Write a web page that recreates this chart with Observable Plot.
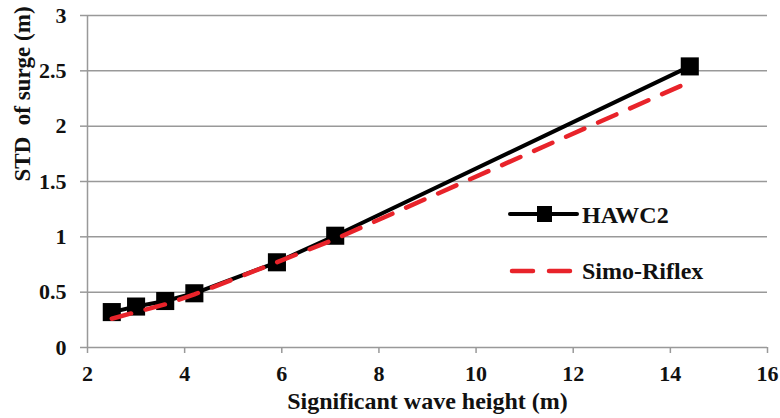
<!DOCTYPE html>
<html>
<head>
<meta charset="utf-8">
<script src="https://cdn.jsdelivr.net/npm/d3@7"></script>
<script src="https://cdn.jsdelivr.net/npm/@observablehq/plot@0.6"></script>
<style>
  html, body { margin: 0; padding: 0; background: #fff; }
  #wrap { position: relative; width: 780px; height: 418px; font-family: "Liberation Serif", "Times New Roman", serif; }
  .legend { position: absolute; left: 508px; height: 30px; line-height: 30px; font-weight: bold; font-size: 24px; color: #111; display: flex; align-items: center; }
  .legend svg { margin-right: 2px; display: block; }
</style>
</head>
<body>
<div id="wrap"></div>
<script>
const waveHeight = [2.5, 3.0, 3.6, 4.2, 5.9, 7.1, 14.4];
const hawc2 = [0.32, 0.37, 0.42, 0.49, 0.77, 1.01, 2.54];
const simoRiflex = [0.26, 0.32, 0.39, 0.48, 0.77, 0.98, 2.40];
const xTicks = [2, 4, 6, 8, 10, 12, 14, 16];
const yTicks = [0, 0.5, 1, 1.5, 2, 2.5, 3];
const yTickLabels = ["0", "0.5", "1", "1.5", "2", "2.5", "3"];
const seriesNames = ["HAWC2", "Simo-Riflex"];

const hData = waveHeight.map((x, i) => ({x, y: hawc2[i]}));
const sData = waveHeight.map((x, i) => ({x, y: simoRiflex[i]}));

const chart = Plot.plot({
  width: 780,
  height: 418,
  marginLeft: 87,
  marginRight: 13,
  marginTop: 15,
  marginBottom: 71,
  style: {fontFamily: "'Liberation Serif', 'Times New Roman', serif", fontWeight: "bold", fontSize: "22px", color: "#111", background: "#fff"},
  x: {domain: [2, 16]},
  y: {domain: [0, 3]},
  marks: [
    Plot.ruleY(yTicks.filter(d => d > 0), {stroke: "#999", strokeWidth: 1.5}),
    Plot.axisY({ticks: yTicks, tickFormat: d => yTickLabels[yTicks.indexOf(d)], tickSize: 7, tickPadding: 14, stroke: "#999", strokeWidth: 1.5, label: null}),
    Plot.ruleX([2], {stroke: "#999", strokeWidth: 1.5}),
    Plot.ruleY([0], {stroke: "#999", strokeWidth: 1.5}),
    Plot.axisX({ticks: xTicks, tickSize: 6, tickPadding: 12, stroke: "#999", strokeWidth: 1.5, label: null}),
    Plot.text(["Significant wave height (m)"], {frameAnchor: "bottom", dy: 61, fontSize: 24, fontWeight: "bold"}),
    Plot.text(["STD  of surge (m)"], {frameAnchor: "left", dx: -65, rotate: -90, fontSize: 23, fontWeight: "bold"}),
    Plot.line(hData, {x: "x", y: "y", stroke: "#000", strokeWidth: 4}),
    Plot.dot(hData, {x: "x", y: "y", symbol: "square", r: 10.2, fill: "#000"}),
    Plot.line(sData, {x: "x", y: "y", stroke: "#e8232a", strokeWidth: 4.5, strokeDasharray: "20,15"})
  ]
});
const wrap = document.getElementById("wrap");
wrap.appendChild(chart);

const leg1 = document.createElement("div");
leg1.className = "legend";
leg1.style.top = "200px";
leg1.innerHTML = `<svg width="72" height="30"><line x1="2" y1="14" x2="69" y2="14" stroke="#000" stroke-width="4" stroke-linecap="round"/><rect x="29" y="6" width="15" height="16" fill="#000"/></svg><span>${seriesNames[0]}</span>`;
wrap.appendChild(leg1);
const leg2 = document.createElement("div");
leg2.className = "legend";
leg2.style.top = "256px";
leg2.innerHTML = `<svg width="72" height="30"><line x1="4" y1="15" x2="63" y2="15" stroke="#e8232a" stroke-width="4.5" stroke-dasharray="21,16" stroke-linecap="round"/></svg><span>${seriesNames[1]}</span>`;
wrap.appendChild(leg2);
</script>
</body>
</html>
